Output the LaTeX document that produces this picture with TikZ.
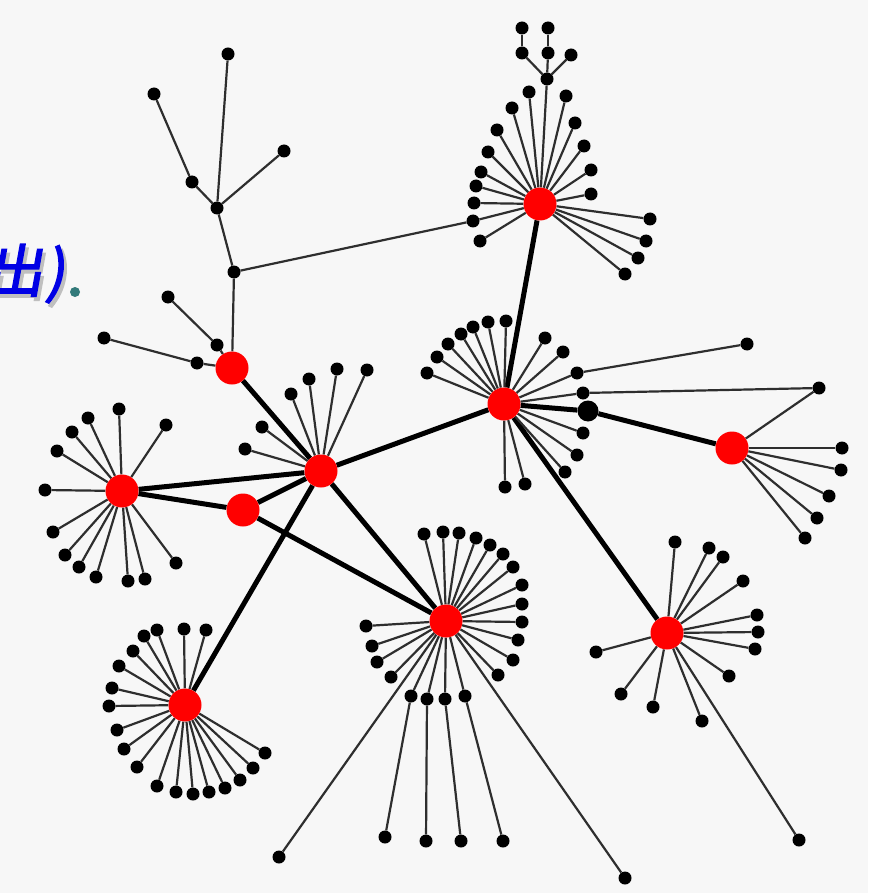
\documentclass[tikz,border=0pt]{standalone}
\usepackage{fontspec}
\newfontfamily\cjk[FakeSlant=0.18,FakeBold=2.5]{Noto Sans CJK SC}
\pgfdeclarelayer{bg}
\pgfdeclarelayer{paper}
\pgfsetlayers{paper,bg,main}
\tikzset{
  hub/.style={circle,fill=red,minimum size=33pt,inner sep=0pt},
  leaf/.style={circle,fill=black,minimum size=13pt,inner sep=0pt},
  bigdot/.style={circle,fill=black,minimum size=21pt,inner sep=0pt},
  spoke/.style={line width=2.2pt,draw=black!82},
  trunk/.style={line width=5pt,draw=black},
  bluetxt/.style={inner sep=0pt,text=blue!90!black,font=\cjk\fontsize{57}{60}\selectfont},
  shadowtxt/.style={inner sep=0pt,text=black!25,font=\cjk\fontsize{57}{60}\selectfont},
}
\begin{document}
\begin{tikzpicture}[x=1pt,y=-1pt]
\begin{pgfonlayer}{paper}
\fill[white!97!black] (0,0) rectangle (868,893);
\end{pgfonlayer}
\useasboundingbox (0,0) rectangle (868,893);
% text
\begin{scope}
\clip (0,0) rectangle (868,893);
\node[shadowtxt,anchor=base east] (sA) at (46,296) {出};
\node[shadowtxt,anchor=base west] (sB) at (48,296) {)};
\node[bluetxt,anchor=base east] (tA) at (43,292) {出};
\node[bluetxt,anchor=base west] (tB) at (45,292) {)};
\end{scope}
\node[circle,fill=teal!70!black!80,minimum size=10pt,inner sep=0pt] (tdot) at (75,292) {};
% hubs
\node[hub] (h1) at (540,204) {};
\node[hub] (h2) at (232,368) {};
\node[hub] (h3) at (504,404) {};
\node[hub] (h4) at (321,471) {};
\node[hub] (h5) at (122,491) {};
\node[hub] (h6) at (243,510) {};
\node[hub] (h7) at (732,448) {};
\node[hub] (h8) at (446,621) {};
\node[hub] (h9) at (667,633) {};
\node[hub] (h10) at (185,705) {};
\node[bigdot] (bd) at (588,411) {};
% thick edges
\begin{pgfonlayer}{bg}
\foreach \a/\b in {h1/h3,h2/h4,h4/h3,h4/h5,h5/h6,h6/h4,h6/h8,h4/h8,h4/h10,h3/h9,h3/bd,bd/h7}
  \draw[trunk] (\a) -- (\b);
\end{pgfonlayer}
% simple leaves: hub / list
\foreach \h/\lst in {
  h1/{529/92,566/96,512/108,575/123,497/130,584/146,488/152,591/170,481/172,476/186,591/194,474/203,480/241,650/219,646/241,638/258,625/274},
  h3/{427/373,437/357,448/344,461/334,473/327,488/322,506/321,545/338,563/352,583/433,577/455,565/472,505/487,525/484},
  h7/{842/448,841/470,829/496,817/518,805/538},
  h4/{337/369,309/379,291/394,262/427,245/449,367/370},
  h5/{119/409,88/418,72/432,57/451,166/425,45/490,53/532,65/555,79/567,96/577,128/581,145/579,176/563},
  h10/{157/630,184/629,206/630,144/636,133/651,119/666,112/688,109/706,117/730,124/749,137/767,157/786,176/792,193/794,209/792,225/788,240/780,253/768,265/753},
  h8/{424/534,443/532,459/533,476/538,490/545,503/554,513/567,522/585,522/604,522/622,518/640,513/660,498/675,366/626,372/646,377/662,391/677,279/857,625/878},
  h9/{675/542,709/548,723/557,743/581,757/615,758/632,755/649,729/676,596/652,621/694,653/707,702/721,799/840}}
{
  \foreach \x/\y [count=\i] in \lst {
    \node[leaf] (\h l\i) at (\x,\y) {};
    \begin{pgfonlayer}{bg}
      \draw[spoke] (\h) -- (\h l\i);
    \end{pgfonlayer}
  }
}
% named special leaves
\node[leaf] (ta) at (473,221) {};
\node[leaf] (t1) at (522,28) {};
\node[leaf] (t2) at (548,28) {};
\node[leaf] (t3) at (522,53) {};
\node[leaf] (t4) at (548,53) {};
\node[leaf] (t5) at (571,55) {};
\node[leaf] (t6) at (547,79) {};
\node[leaf] (k1) at (228,54) {};
\node[leaf] (k2) at (154,94) {};
\node[leaf] (k3) at (192,182) {};
\node[leaf] (k4) at (217,208) {};
\node[leaf] (k5) at (284,151) {};
\node[leaf] (k6) at (234,272) {};
\node[leaf] (k7) at (168,297) {};
\node[leaf] (k8) at (217,345) {};
\node[leaf] (k9) at (104,338) {};
\node[leaf] (k10) at (197,363) {};
\node[leaf] (b1) at (577,373) {};
\node[leaf] (b2) at (583,393) {};
\node[leaf] (e1) at (747,344) {};
\node[leaf] (e2) at (819,388) {};
\node[leaf] (c1) at (411,696) {};
\node[leaf] (c2) at (427,699) {};
\node[leaf] (c3) at (445,699) {};
\node[leaf] (c4) at (465,696) {};
\node[leaf] (d1) at (385,837) {};
\node[leaf] (d2) at (426,841) {};
\node[leaf] (d3) at (461,841) {};
\node[leaf] (d4) at (503,841) {};
\begin{pgfonlayer}{bg}
\foreach \a/\b in {h1/ta,ta/k6,h1/t6,t6/t3,t6/t4,t6/t5,t3/t1,t4/t2,
  k1/k4,k2/k3,k3/k4,k5/k4,k4/k6,k6/h2,k7/k8,k8/h2,k9/k10,k10/h2,
  h3/b1,b1/e1,h3/b2,b2/e2,e2/h7,
  h8/c1,h8/c2,h8/c3,h8/c4,c1/d1,c2/d2,c3/d3,c4/d4}
  \draw[spoke] (\a) -- (\b);
\end{pgfonlayer}
\end{tikzpicture}
\end{document}
